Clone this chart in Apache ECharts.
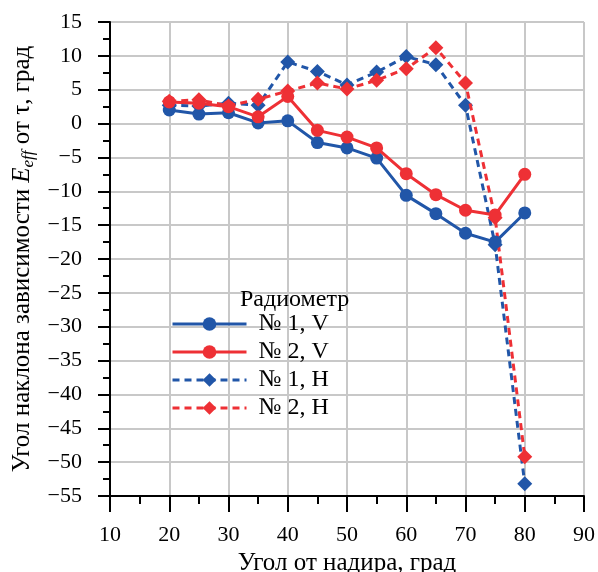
<!DOCTYPE html>
<html>
<head>
<meta charset="utf-8">
<script src="https://cdn.jsdelivr.net/npm/echarts@6/dist/echarts.min.js"></script>
<style>
html,body{margin:0;padding:0;background:#fff;}
#c{width:598px;height:572px;}
</style>
</head>
<body>
<div id="c"></div>
<script>
const angles = [20, 25, 30, 35, 40, 45, 50, 55, 60, 65, 70, 75, 80];
const n1V = [2.0, 1.4, 1.6, 0.1, 0.4, -2.8, -3.6, -5.1, -10.6, -13.3, -16.2, -17.5, -13.2];
const n2V = [3.2, 3.0, 2.5, 1.0, 4.0, -1.0, -2.0, -3.6, -7.4, -10.5, -12.8, -13.5, -7.5];
const n1H = [2.7, 2.6, 3.0, 2.7, 9.1, 7.7, 5.7, 7.6, 9.9, 8.7, 2.7, -17.9, -53.2];
const n2H = [3.3, 3.5, 2.6, 3.6, 4.8, 6.0, 5.1, 6.4, 8.1, 11.2, 6.0, -13.9, -49.2];
const seriesNames = ['№ 1, V', '№ 2, V', '№ 1, H', '№ 2, H'];
const legendTitle = 'Радиометр';
const xTitle = 'Угол от надира, град';

const BLUE = '#2156a8', RED = '#ee3035';
const FONT = '"Liberation Serif", "Times New Roman", serif';
const pairs = (ys) => angles.map((a, i) => [a, ys[i]]);
const minus = (v) => String(v).replace('-', '\u2212');

const chart = echarts.init(document.getElementById('c'), null, {renderer: 'canvas'});
function mk(name, data, color, symbol, size, dashed, z) {
  return {
    name, type: 'line', data: pairs(data), z,
    symbol, symbolSize: size,
    itemStyle: {color},
    lineStyle: {color, width: 3, type: dashed ? [7, 5] : 'solid'},
    emphasis: {disabled: true},
    animation: false
  };
}
chart.setOption({
  animation: false,
  grid: {left: 110, right: 14, top: 22, bottom: 76, containLabel: false, outerBoundsMode: 'none'},
  textStyle: {fontFamily: FONT},
  title: {
    text: legendTitle, left: 240, top: 288, padding: 0,
    textStyle: {fontFamily: FONT, fontSize: 24, fontWeight: 'normal', color: '#000'}
  },
  xAxis: {
    type: 'value', min: 10, max: 90, interval: 10,
    name: xTitle, nameLocation: 'middle', nameGap: 50,
    nameTextStyle: {fontFamily: FONT, fontSize: 25, color: '#000'},
    axisLine: {onZero: false, lineStyle: {color: '#000', width: 2}},
    axisTick: {show: true, length: 16, lineStyle: {color: '#000', width: 2}},
    minorTick: {show: true, splitNumber: 2, length: 8, lineStyle: {color: '#000', width: 2}},
    axisLabel: {fontFamily: FONT, fontSize: 22, color: '#000', margin: 28},
    splitLine: {show: true, lineStyle: {color: '#c8c8c8', width: 2}}
  },
  yAxis: {
    type: 'value', min: -55, max: 15, interval: 5,
    name: '{n|Угол наклона зависимости }{i|E}{s|eff}{n| от τ, град}',
    nameLocation: 'middle', nameGap: 68, nameRotate: 90,
    nameTextStyle: {
      fontFamily: FONT, fontSize: 25, color: '#000',
      rich: {
        n: {fontFamily: FONT, fontSize: 25, color: '#000'},
        i: {fontFamily: FONT, fontSize: 25, color: '#000', fontStyle: 'italic'},
        s: {fontFamily: FONT, fontSize: 17, color: '#000', fontStyle: 'italic', padding: [12, 0, 0, 0]}
      }
    },
    axisLine: {onZero: false, lineStyle: {color: '#000', width: 2}},
    axisTick: {show: true, length: 12, lineStyle: {color: '#000', width: 2}},
    minorTick: {show: true, splitNumber: 2, length: 7, lineStyle: {color: '#000', width: 2}},
    axisLabel: {fontFamily: FONT, fontSize: 22, color: '#000', margin: 28, formatter: minus},
    splitLine: {show: true, lineStyle: {color: '#c8c8c8', width: 2}}
  },
  legend: {
    left: 171, top: 312, orient: 'vertical', padding: 0,
    itemWidth: 74, itemHeight: 17, itemGap: 4,
    lineStyle: {width: 3},
    textStyle: {fontFamily: FONT, fontSize: 24, lineHeight: 24, color: '#000', padding: [0, 0, 0, 7]},
    data: seriesNames
  },
  series: [
    mk(seriesNames[2], n1H, BLUE, 'diamond', 15, true, 2),
    mk(seriesNames[3], n2H, RED, 'diamond', 15, true, 3),
    mk(seriesNames[0], n1V, BLUE, 'circle', 13, false, 4),
    mk(seriesNames[1], n2V, RED, 'circle', 13, false, 5)
  ]
});
</script>
</body>
</html>
